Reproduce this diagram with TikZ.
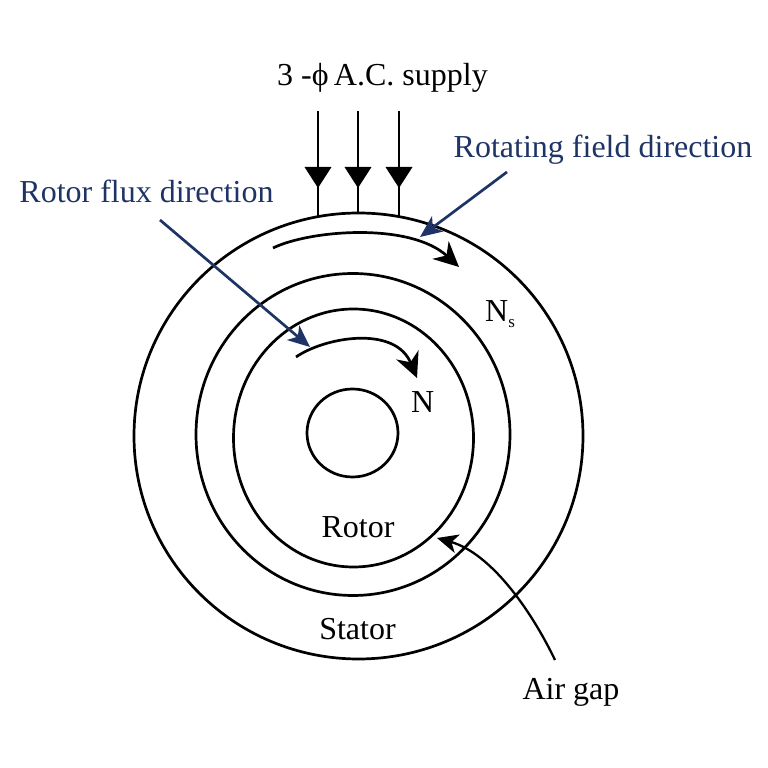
\documentclass[tikz,border=0pt]{standalone}
\usepackage{fontspec}
\setmainfont{Liberation Serif}
\usetikzlibrary{arrows.meta}
\definecolor{pointerblue}{RGB}{31,52,102}

\tikzset{
  lbl/.style={font=\fontsize{32}{38}\selectfont, inner sep=0pt},
  ring/.style={line width=2.7pt},
  flux/.style={line width=2.7pt, -{Stealth[length=25pt, width=24pt, inset=8pt]}},
  pointer/.style={line width=2.7pt, color=pointerblue, -{Stealth[length=22pt, width=19pt, inset=6pt]}},
  gapline/.style={line width=2.3pt, -{Stealth[length=21pt, width=19pt, inset=6pt]}},
}

\begin{document}
\begin{tikzpicture}[x=1pt, y=1pt]
  \useasboundingbox (0,0) rectangle (768,768);

  % ───────── Stator and rotor contours ─────────
  \draw[ring] (358.5,332) ellipse[x radius=224.5, y radius=223]; % stator outer
  \draw[ring] (353,333.5) ellipse[x radius=157, y radius=161];   % stator inner
  \draw[ring] (353.5,330) ellipse[x radius=120, y radius=129];   % rotor
  \draw[ring] (352.5,335) ellipse[x radius=45.5, y radius=44];   % shaft

  % ───────── 3-phase supply leads ─────────
  \foreach \x in {318,358,399} {
    \draw[ring] (\x,657) -- (\x,{332+223*sqrt(1-((\x-358.5)/224.5)^2)});
    \fill (\x-13.5,601) -- (\x+13.5,601) -- (\x,580) -- cycle;
  }

  % ───────── Flux directions ─────────
  \draw[flux] (273,520) .. controls (310,538) and (410,546) .. (459,501);
  \draw[flux] (296,411) .. controls (325,431) and (395,443) .. (417,390);

  % ───────── Labels ─────────
  \node[lbl, anchor=base] (supply) at (382.5,682) {3 -ϕ\,A.C. supply};
  \node[lbl, anchor=base, text=pointerblue] (rotorflux) at (146.5,565) {Rotor flux direction};
  \node[lbl, anchor=base, text=pointerblue] (rotfield) at (603,610) {Rotating field direction};
  \node[lbl, anchor=base west] (ns) at (485,446) {N\raisebox{-6pt}{\fontsize{17}{17}\selectfont s}};
  \node[lbl, anchor=base west] (n) at (411,355) {N};
  \node[lbl, anchor=base] (rotor) at (358,230) {Rotor};
  \node[lbl, anchor=base] (stator) at (357.5,128) {Stator};
  \node[lbl, anchor=base] (airgap) at (571,68) {Air gap};

  % ───────── Pointers ─────────
  \coordinate (rf-tail) at (507,596);
  \coordinate (rf-tip) at (420,531);
  \coordinate (rff-tail) at (160,548);
  \coordinate (rff-tip) at (310,421);
  \coordinate (gap-tail) at (555,108);
  \coordinate (gap-tip) at (437,230);
  \draw[pointer] (rf-tail) -- (rf-tip);
  \draw[pointer] (rff-tail) -- (rff-tip);
  \draw[gapline] (gap-tail) .. controls (530,160) and (490,215) .. (gap-tip);

\end{tikzpicture}
\end{document}
